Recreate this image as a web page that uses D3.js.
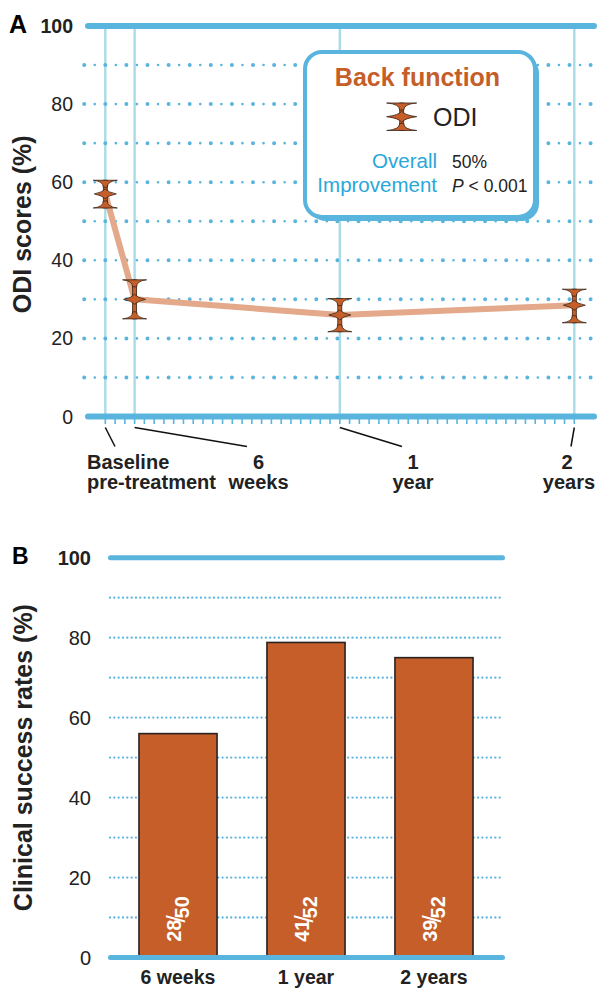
<!DOCTYPE html>
<html>
<head>
<meta charset="utf-8">
<script src="https://cdn.jsdelivr.net/npm/d3@7"></script>
<style>
  body { margin: 0; background: #fff; }
  svg { display: block; font-family: "Liberation Sans", Arial, Helvetica, sans-serif; }
</style>
</head>
<body>
<svg id="chart" width="597" height="990"></svg>
<script>
"use strict";

// Panel A data: ODI scores over time (months since baseline)
const timeMonths = [0, 1.5, 12, 24];
const timeLabels = [["Baseline", "pre-treatment"], ["6", "weeks"], ["1", "year"], ["2", "years"]];
const odiMean = [57, 30, 26, 28.5];
const odiLow = [53.4, 25, 21.7, 24];
const odiHigh = [60.5, 35, 30.2, 32.6];
const yTicksA = [0, 20, 40, 60, 80, 100];
const yDotsA = [10, 20, 30, 40, 50, 60, 70, 80, 90];

// Panel B data: clinical success rates
const periods = ["6 weeks", "1 year", "2 years"];
const successRate = [56, 78.8, 75];
const successN = [28, 41, 39];
const totalN = [50, 52, 52];
const yTicksB = [0, 20, 40, 60, 80, 100];
const yDotsB = [10, 20, 30, 40, 50, 60, 70, 80, 90];

// colours
const blue = "#5ab5de";
const paleBlue = "#a9dce6";
const orange = "#c55e28";
const dark = "#3a2416";
const salmon = "#e3a98a";
const textBlue = "#2aa7d9";

const svg = d3.select("#chart");

// ---------- Panel A ----------
const xA = d3.scaleLinear().domain([0, 24]).range([105.3, 574.3]);
const yA = d3.scaleLinear().domain([0, 100]).range([416.5, 26]);
const gA = svg.append("g");

// vertical time lines
gA.selectAll(".vline").data(timeMonths).join("line")
    .attr("x1", d => xA(d)).attr("x2", d => xA(d))
    .attr("y1", yA(100)).attr("y2", yA(0))
    .attr("stroke", paleBlue).attr("stroke-width", 2.4);

// dotted grid (big and small dots alternating)
gA.selectAll(".dotBig").data(yDotsA).join("line")
    .attr("x1", xA(0) - 21.1).attr("x2", 597)
    .attr("y1", d => yA(d)).attr("y2", d => yA(d))
    .attr("stroke", blue).attr("stroke-width", 4)
    .attr("stroke-linecap", "round")
    .attr("stroke-dasharray", "0 21.1");
gA.selectAll(".dotSmall").data(yDotsA).join("line")
    .attr("x1", xA(0) - 21.1 + 10.55).attr("x2", 597)
    .attr("y1", d => yA(d)).attr("y2", d => yA(d))
    .attr("stroke", blue).attr("stroke-width", 2.6)
    .attr("stroke-linecap", "round")
    .attr("stroke-dasharray", "0 21.1");

// minor ticks under the time axis
gA.selectAll(".tick").data(d3.range(0, 24.01, 0.5)).join("line")
    .attr("x1", d => xA(d)).attr("x2", d => xA(d))
    .attr("y1", yA(0)).attr("y2", yA(0) + 7.5)
    .attr("stroke", blue).attr("stroke-width", 1.6);

// thick lines at 0 and 100
gA.selectAll(".thick").data([0, 100]).join("line")
    .attr("x1", 88).attr("x2", 594)
    .attr("y1", d => yA(d)).attr("y2", d => yA(d))
    .attr("stroke", blue).attr("stroke-width", 6)
    .attr("stroke-linecap", "round");

// y tick labels
gA.selectAll(".ylab").data(yTicksA).join("text")
    .attr("x", 73).attr("y", d => yA(d)).attr("dy", "0.36em")
    .attr("text-anchor", "end")
    .attr("font-size", 19.5)
    .attr("font-weight", d => d === 100 ? "bold" : "normal")
    .attr("fill", "#222")
    .text(d => d);

svg.append("text").attr("x", 9).attr("y", 33)
    .attr("font-size", 25).attr("font-weight", "bold").text("A");

svg.append("text")
    .attr("transform", `translate(31,${yA(50) + 3}) rotate(-90)`)
    .attr("text-anchor", "middle")
    .attr("font-size", 25).attr("font-weight", "bold").attr("fill", "#222")
    .text("ODI scores (%)");

// x labels with leader lines
const labelAnchor = [[115, 87, "start"], [247, 258.5, "middle"], [402, 413, "middle"], [571, 567, "middle"]];
timeMonths.forEach((m, i) => {
    const [lx, tx, anchor] = labelAnchor[i];
    gA.append("line")
        .attr("x1", xA(m)).attr("y1", yA(0) + 11)
        .attr("x2", lx).attr("y2", yA(0) + 30)
        .attr("stroke", "#111").attr("stroke-width", 1.5);
    const t = gA.append("text")
        .attr("text-anchor", anchor)
        .attr("font-size", 20).attr("font-weight", "bold").attr("fill", "#222");
    timeLabels[i].forEach((s, j) => {
        t.append("tspan").attr("x", i === 3 && j === 1 ? tx + 2 : tx)
            .attr("y", 469 + j * 20).text(s);
    });
});

// mean line
const lineA = d3.line()
    .x((d, i) => xA(timeMonths[i]))
    .y(d => yA(d));
gA.append("path").datum(odiMean)
    .attr("d", lineA)
    .attr("fill", "none")
    .attr("stroke", salmon).attr("stroke-width", 6)
    .attr("stroke-linejoin", "round");

function errorBar(g, cx, yTop, yMid, yBot, capW, midW, midH) {
    const capH = 7, s = 2;
    g.append("rect")
        .attr("x", cx - s).attr("y", yTop)
        .attr("width", 2 * s).attr("height", yBot - yTop)
        .attr("fill", orange).attr("stroke", dark).attr("stroke-width", 0.8);
    g.append("path")
        .attr("d", `M${cx - capW / 2},${yTop} L${cx + capW / 2},${yTop} Q${cx + s},${yTop + 1} ${cx + s},${yTop + capH} L${cx - s},${yTop + capH} Q${cx - s},${yTop + 1} ${cx - capW / 2},${yTop} Z`)
        .attr("fill", orange).attr("stroke", dark).attr("stroke-width", 0.8);
    g.append("path")
        .attr("d", `M${cx - capW / 2},${yBot} L${cx + capW / 2},${yBot} Q${cx + s},${yBot - 1} ${cx + s},${yBot - capH} L${cx - s},${yBot - capH} Q${cx - s},${yBot - 1} ${cx - capW / 2},${yBot} Z`)
        .attr("fill", orange).attr("stroke", dark).attr("stroke-width", 0.8);
    g.append("path")
        .attr("d", `M${cx - midW / 2},${yMid} Q${cx - 3},${yMid - 1.5} ${cx},${yMid - midH} Q${cx + 3},${yMid - 1.5} ${cx + midW / 2},${yMid} Q${cx + 3},${yMid + 1.5} ${cx},${yMid + midH} Q${cx - 3},${yMid + 1.5} ${cx - midW / 2},${yMid} Z`)
        .attr("fill", orange).attr("stroke", dark).attr("stroke-width", 0.8);
}

timeMonths.forEach((m, i) => {
    errorBar(gA, xA(m), yA(odiHigh[i]), yA(odiMean[i]), yA(odiLow[i]), 24, 22, 5);
});

// legend box
const lg = svg.append("g");
lg.append("rect").attr("x", 309).attr("y", 56).attr("width", 230).attr("height", 165)
    .attr("rx", 17).attr("fill", blue);
lg.append("rect").attr("x", 305).attr("y", 52).attr("width", 230).attr("height", 165)
    .attr("rx", 17).attr("fill", "#fff").attr("stroke", blue).attr("stroke-width", 4);
lg.append("text").attr("x", 417.5).attr("y", 86).attr("text-anchor", "middle")
    .attr("font-size", 25).attr("font-weight", "bold").attr("fill", orange)
    .text("Back function");
errorBar(lg, 401.7, 103, 116.7, 130.5, 30, 30, 5.5);
lg.append("text").attr("x", 433).attr("y", 126)
    .attr("font-size", 25).attr("fill", "#222").text("ODI");
lg.append("text").attr("x", 437).attr("y", 168.3).attr("text-anchor", "end")
    .attr("font-size", 20.5).attr("fill", textBlue).text("Overall");
lg.append("text").attr("x", 437).attr("y", 191.7).attr("text-anchor", "end")
    .attr("font-size", 20.5).attr("fill", textBlue).text("Improvement");
lg.append("text").attr("x", 452).attr("y", 168.3)
    .attr("font-size", 17.5).attr("fill", "#222").text("50%");
const pt = lg.append("text").attr("x", 452).attr("y", 191.7)
    .attr("font-size", 17.5).attr("fill", "#222");
pt.append("tspan").attr("font-style", "italic").text("P");
pt.append("tspan").text(" < 0.001");

// ---------- Panel B ----------
const xB = d3.scaleBand().domain(periods).range([108, 504])
    .paddingInner(0.39).paddingOuter(0.242);
const yB = d3.scaleLinear().domain([0, 100]).range([957.5, 557.7]);
const gB = svg.append("g");

gB.selectAll(".dotB").data(yDotsB).join("line")
    .attr("x1", 110).attr("x2", 501)
    .attr("y1", d => yB(d)).attr("y2", d => yB(d))
    .attr("stroke", blue).attr("stroke-width", 2.3)
    .attr("stroke-linecap", "round")
    .attr("stroke-dasharray", "0 4.33");

gB.selectAll(".bar").data(successRate).join("rect")
    .attr("x", (d, i) => xB(periods[i]))
    .attr("y", d => yB(d))
    .attr("width", xB.bandwidth())
    .attr("height", d => yB(0) - yB(d))
    .attr("fill", orange).attr("stroke", "#2a2220").attr("stroke-width", 1.6);

gB.selectAll(".thickB").data([0, 100]).join("line")
    .attr("x1", 110.5).attr("x2", 502.5)
    .attr("y1", d => yB(d)).attr("y2", d => yB(d))
    .attr("stroke", blue).attr("stroke-width", 5)
    .attr("stroke-linecap", "round");

gB.selectAll(".ylabB").data(yTicksB).join("text")
    .attr("x", 91).attr("y", d => yB(d)).attr("dy", "0.36em")
    .attr("text-anchor", "end")
    .attr("font-size", 20)
    .attr("font-weight", d => d === 100 ? "bold" : "normal")
    .attr("fill", "#222")
    .text(d => d);

svg.append("text").attr("x", 12).attr("y", 564)
    .attr("font-size", 23).attr("font-weight", "bold").text("B");

svg.append("text")
    .attr("transform", `translate(32,${yB(50)}) rotate(-90)`)
    .attr("text-anchor", "middle")
    .attr("font-size", 25).attr("font-weight", "bold").attr("fill", "#222")
    .text("Clinical success rates (%)");

gB.selectAll(".xlabB").data(periods).join("text")
    .attr("x", d => xB(d) + xB.bandwidth() / 2)
    .attr("y", 984)
    .attr("text-anchor", "middle")
    .attr("font-size", 19.5).attr("font-weight", "bold").attr("fill", "#222")
    .text(d => d);

// fraction labels inside bars
periods.forEach((p, i) => {
    const cx = xB(p) + xB.bandwidth() / 2;
    const t = gB.append("text")
        .attr("transform", `translate(${cx + 7},919) rotate(-90)`)
        .attr("text-anchor", "middle")
        .attr("fill", "#fff").attr("font-size", 20).attr("font-weight", "bold");
    t.append("tspan").attr("dy", -4).text(successN[i]);
    t.append("tspan").attr("dy", 4).attr("dx", -3).attr("font-weight", "normal")
        .attr("font-size", 26).text("/");
    t.append("tspan").attr("dy", 4).attr("dx", -3).text(totalN[i]);
});
</script>
</body>
</html>
